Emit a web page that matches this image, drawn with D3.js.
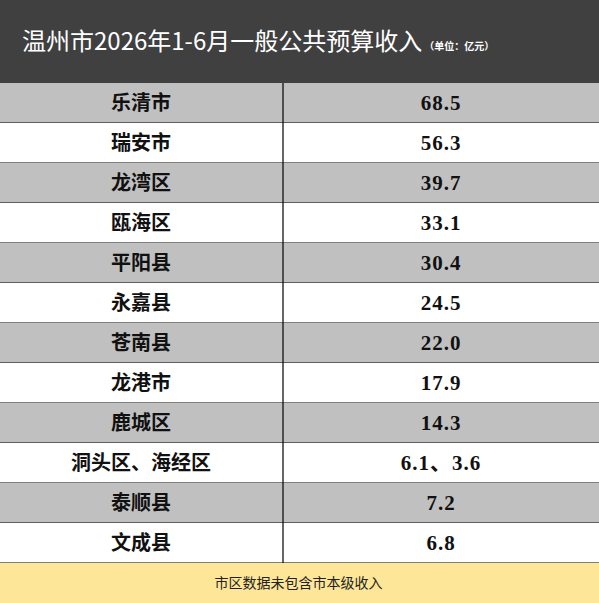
<!DOCTYPE html>
<html><head><meta charset="utf-8">
<script src="https://cdn.jsdelivr.net/npm/d3@7"></script>
<style>body{margin:0;background:#fff}svg{display:block}</style>
</head><body>
<svg id="c" width="599" height="603"></svg>
<script>
const regions = ["乐清市","瑞安市","龙湾区","瓯海区","平阳县","永嘉县","苍南县","龙港市","鹿城区","洞头区、海经区","泰顺县","文成县"];
const revenue = ["68.5","56.3","39.7","33.1","30.4","24.5","22.0","17.9","14.3","6.1、3.6","7.2","6.8"];
const title = "温州市2026年1-6月一般公共预算收入";
const unit = "（单位：亿元）";
const note = "市区数据未包含市本级收入";

const W = 599, H = 603, tableTop = 83, tableBottom = 563, split = 283;
const svg = d3.select("#c");
const cjk = "'Noto Sans CJK SC','Noto Sans',sans-serif";

svg.append("rect").attr("width", W).attr("height", tableTop).attr("fill", "#404040");
const t = svg.append("text").attr("x", 22).attr("y", 50).attr("fill", "#fff")
  .attr("font-family", cjk).attr("font-size", 24);
t.append("tspan").text(title);
t.append("tspan").attr("font-size", 10).attr("font-weight", "bold").attr("dx", 2).text(unit);

const y = d3.scaleBand().domain(regions).range([tableTop, tableBottom]);
const g = svg.append("g").selectAll("g").data(regions).join("g")
  .attr("transform", d => `translate(0,${y(d)})`);
g.append("rect").attr("width", W).attr("height", y.bandwidth())
  .attr("fill", (d, i) => i % 2 ? "#ffffff" : "#c0c0c0");
g.append("line").attr("x1", 0).attr("x2", W).attr("y1", y.bandwidth()).attr("y2", y.bandwidth())
  .attr("stroke", "#000").attr("stroke-width", 1.2);
g.append("text").attr("x", 141).attr("y", y.bandwidth() / 2 + 7).attr("text-anchor", "middle")
  .attr("font-family", cjk).attr("font-weight", "bold").attr("font-size", 20).attr("fill", "#111")
  .text(d => d);
g.append("text").attr("x", 441).attr("y", y.bandwidth() / 2 + 7).attr("text-anchor", "middle")
  .attr("font-family", "'Liberation Serif','Noto Sans CJK SC',serif").attr("font-weight", "bold")
  .attr("font-size", 21).attr("fill", "#111").attr("letter-spacing", 1)
  .text((d, i) => revenue[i]);
svg.append("line").attr("x1", split).attr("x2", split).attr("y1", tableTop).attr("y2", tableBottom)
  .attr("stroke", "#000").attr("stroke-width", 1.2);

svg.append("rect").attr("y", tableBottom).attr("width", W).attr("height", H - tableBottom).attr("fill", "#fde698");
svg.append("text").attr("x", W / 2 - 1).attr("y", tableBottom + 25).attr("text-anchor", "middle")
  .attr("font-family", cjk).attr("font-size", 14).attr("fill", "#222").text(note);
</script>
</body></html>
